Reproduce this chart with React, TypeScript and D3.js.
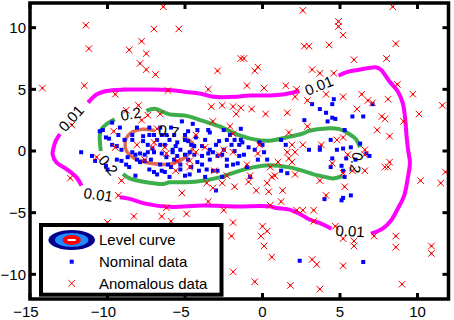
import React from "react";
import * as d3 from "d3";

type Pt = [number, number];

const xTicks = [-15, -10, -5, 0, 5, 10];
const yTicks = [-10, -5, 0, 5, 10];

// level 0.01 contour, drawn as separate pieces (gaps where labels sit)
const level001: Pt[][] = [
  [[-11.25, 3.92], [-10.71, 4.58], [-10.07, 4.86], [-9.0, 4.98], [-7.49, 4.98], [-5.99, 4.94], [-4.91, 4.78], [-4.06, 4.66], [-3.2, 4.4], [-1.69, 4.4], [-0.84, 4.5], [0.45, 4.5], [1.31, 4.58], [2.38, 4.86]],
  [[4.91, 6.11], [5.39, 6.38], [6.25, 6.59], [7.32, 6.79], [7.64, 6.59], [8.18, 5.66], [8.71, 4.86], [9.04, 3.92], [9.21, 2.57], [9.29, 1.24], [9.4, 0.03], [9.51, -0.93], [9.36, -2.28], [9.14, -3.62], [8.71, -4.72], [8.29, -5.63], [7.75, -6.29], [7.0, -6.7]],
  [[4.44, -6.3], [3.78, -5.89], [3.03, -5.55], [2.38, -5.09], [1.74, -4.75], [0.88, -4.62], [0.45, -4.49], [-1.69, -4.49], [-3.84, -4.42], [-5.99, -4.53], [-7.49, -4.29], [-8.57, -3.88], [-9.21, -3.75]],
  [[-11.68, -2.81], [-12.0, -2.14], [-12.64, -1.47], [-13.29, -0.93], [-13.54, -0.27], [-13.5, 0.16], [-13.33, 0.84], [-13.07, 1.37]],
];

const level02: Pt[][] = [
  [[-10.43, 0.0], [-10.5, 1.24], [-10.39, 1.77], [-10.07, 2.17], [-9.53, 2.57]],
  [[-7.49, 3.25], [-6.96, 3.43], [-6.31, 3.11], [-5.99, 2.97], [-4.91, 2.85], [-3.84, 2.44], [-2.77, 1.99], [-1.69, 1.37], [-0.62, 0.96], [0.45, 0.84], [1.53, 1.1], [2.6, 1.42], [3.03, 1.64], [4.1, 1.83], [4.96, 1.77], [5.6, 1.37], [6.03, 0.96], [6.29, 0.3]],
  [[5.17, -2.01], [4.53, -2.22], [3.88, -2.06], [3.24, -1.87], [2.81, -1.69], [1.74, -1.33], [0.45, -1.15], [-0.62, -1.33], [-1.69, -1.69], [-2.77, -2.14], [-3.84, -2.41], [-4.91, -2.54], [-5.99, -2.54], [-6.42, -2.68], [-7.49, -2.54], [-8.57, -2.22], [-9.0, -1.87]],
];

const level07: Pt[][] = [
  [[-6.96, 1.66], [-7.73, 1.77], [-8.37, 1.56], [-8.69, 1.24], [-8.86, 0.7], [-8.78, 0.0], [-8.35, -0.53], [-7.49, -0.93], [-6.63, -1.07], [-5.99, -1.07], [-5.35, -0.8], [-4.89, -0.4], [-4.57, 0.06], [-4.44, 0.46], [-4.7, 0.86], [-5.15, 1.14]],
];

const contourLabels = [
  { text: "0.01", x: -12.35, y: 2.65, angle: -48 },
  { text: "0.01", x: 3.65, y: 5.3, angle: -22 },
  { text: "0.01", x: -10.6, y: -3.55, angle: 8 },
  { text: "0.01", x: 5.65, y: -6.5, angle: 3 },
  { text: "0.2", x: -8.5, y: 3.0, angle: -10 },
  { text: "0.2", x: -9.95, y: -1.15, angle: 50 },
  { text: "0.2", x: 6.05, y: -0.95, angle: 100 },
  { text: "0.7", x: -6.05, y: 1.6, angle: 8 },
];

const nominalPoints: Pt[] = [
  [-11.7, -0.1], [-11.0, -0.4], [-10.8, -0.8], [-10.5, 1.6], [-10.3, 1.7], [-10.1, 1.1], [-9.9, 1.0], [-9.7, 0.5], [-9.7, 2.3], [-9.4, 0.4],
  [-10.1, -1.2], [-10.0, -1.5], [-9.4, -0.7], [-9.1, -0.8], [-8.8, -1.1], [-8.6, -1.3], [-8.4, 1.3], [-8.4, 0.9], [-7.7, 1.2], [-7.3, 1.3],
  [-7.0, 1.3], [-7.7, 0.8], [-7.4, 0.5], [-6.8, 0.9], [-6.5, 1.3], [-6.2, 1.3], [-7.1, 0.2], [-6.6, 0.5], [-8.4, -0.1], [-8.2, -0.3],
  [-7.9, -0.2], [-7.6, -0.3], [-7.4, -0.1], [-7.0, -0.1], [-6.5, -0.2], [-6.2, -0.5], [-8.1, -0.7], [-7.9, -0.9], [-7.6, -0.8], [-7.3, -1.5],
  [-7.0, -1.7], [-6.8, -1.9], [-6.5, -1.6], [-6.3, -1.7], [-8.2, -2.0], [-5.2, 2.4], [-3.5, 1.7], [-3.4, 1.5], [-1.4, 1.8], [-5.0, 1.3],
  [-4.8, 1.6], [-5.5, 0.7], [-5.6, 0.4], [-5.8, 0.1], [-5.0, 0.9], [-4.8, 0.8], [-4.6, 0.5], [-4.4, 0.4], [-3.9, 0.4], [-3.0, 0.5],
  [-2.8, 0.8], [-2.0, 0.5], [-1.5, 0.5], [-1.4, 0.9], [-0.9, 0.3], [-3.4, 0.1], [-5.3, 0.1], [-5.8, -0.1], [-5.5, -0.4], [-5.0, -0.3],
  [-4.7, -0.1], [-4.4, -0.3], [-3.9, -0.4], [-3.5, -0.2], [-3.2, -0.1], [-2.9, -0.4], [-2.6, -0.3], [-4.2, -0.9], [-3.9, -1.1], [-5.0, -2.0],
  [-3.2, -1.6], [-2.9, -1.6], [-1.9, -1.1], [-1.6, -1.0], [-3.0, -3.2], [-1.5, -0.4], [-2.3, -1.2], [-1.0, -1.3], [-0.8, -2.1], [-6.0, 0.9],
  [-5.7, -0.7], [-5.3, -1.1], [-4.8, -0.7], [-4.6, -1.3], [-4.3, 1.1], [-3.7, 0.9], [-3.4, -0.7], [-2.5, 0.1], [-2.3, -0.7], [-6.1, -1.1],
  [-5.9, -1.3], [-4.1, -1.6], [-3.6, -1.5], [-5.7, 1.3], [-7.2, -0.7], [-6.6, -1.1], [-6.3, 0.5], [-2.3, 0.9], [-1.8, 0.0], [-1.2, -0.3],
  [-0.5, 0.1], [-0.3, -0.7], [-9.1, 0.1], [-8.9, 0.9], [-8.7, -0.5], [-9.3, 1.3], [-9.2, 1.9], [-8.1, 1.9], [-7.3, 1.9], [-6.6, 1.9],
  [-5.9, 1.9], [-4.5, 2.2], [-4.2, 1.7], [-2.5, 1.7], [-2.1, 1.3], [-5.3, -1.5], [-4.7, -1.9], [-3.7, -2.1], [-6.0, -2.1], [-2.6, -2.1],
  [-0.2, 0.7], [0.0, 0.5], [1.2, 0.9], [1.5, 0.5], [0.1, -0.1], [0.3, -0.7], [1.2, -1.6], [1.6, -1.8], [-1.8, 0.9], [-1.3, 0.7],
  [2.7, 2.5], [4.6, 4.2], [3.2, 3.8], [4.5, 3.8], [3.7, 3.4], [4.1, 3.1], [5.8, 2.8], [6.5, 2.8], [4.5, 2.7], [4.7, 2.6],
  [4.2, 2.4], [5.3, 1.7], [7.1, 3.8], [4.4, 0.9], [5.2, 0.2], [3.7, 0.1], [3.7, 0.3], [6.3, 0.6], [6.9, -0.4], [6.7, -0.2],
  [4.5, -0.6], [4.4, -1.3], [5.1, -1.2], [5.2, -1.6], [5.3, -2.1], [5.4, -0.6], [5.7, -3.6], [4.0, -3.9], [5.1, -4.0], [5.2, -3.8],
  [2.4, -8.9], [6.5, -9.0], [3.0, 0.1], [5.7, 0.3], [6.0, -0.7], [4.8, 0.1],
];

const anomalousPoints: Pt[] = [
  [-11.4, 10.2], [-7.0, 9.9], [-11.2, 8.3], [-8.6, 8.2], [-7.8, 8.9], [-7.5, 7.9], [-7.9, 7.1], [-7.5, 6.6], [-6.9, 6.2], [-14.2, 5.1],
  [-11.5, 5.3], [-9.5, 4.6], [-6.1, 4.9], [-8.0, 3.7], [-8.8, 3.3], [-7.8, 2.5], [-7.4, 2.9], [-6.6, 3.0], [-9.6, 1.6], [-12.3, 2.1],
  [-6.8, 1.8], [-9.5, 0.3], [-8.1, 0.5], [-7.1, 0.3], [-6.3, 0.3], [-6.4, 11.7], [2.6, 11.4], [-5.4, 9.9], [-1.4, 7.5], [-1.2, 7.5],
  [-0.3, 6.8], [-0.5, 6.5], [-2.9, 6.5], [2.7, 8.5], [3.0, 8.5], [-1.0, 5.3], [0.1, 5.1], [1.5, 5.3], [2.2, 5.0], [-3.5, 5.0],
  [2.1, 4.4], [2.9, 4.1], [-3.3, 3.6], [-2.6, 3.7], [-1.9, 3.6], [-1.4, 3.5], [-1.7, 3.0], [-0.7, 3.4], [0.2, 3.0], [1.6, 3.1],
  [-3.2, 2.4], [-2.1, 2.0], [-1.9, 1.4], [-4.3, 1.3], [1.7, 1.5], [2.9, 2.0], [1.9, 0.5], [2.6, 0.5], [-3.7, 0.3], [-2.5, 0.1],
  [-0.2, 0.5], [8.4, 11.7], [4.9, 10.5], [4.9, 10.1], [5.2, 9.4], [4.3, 8.6], [8.6, 8.7], [5.9, 7.4], [8.0, 7.5], [3.2, 6.6],
  [3.7, 6.3], [4.6, 6.3], [8.7, 5.4], [4.1, 4.6], [5.2, 4.4], [6.4, 4.6], [6.8, 4.1], [7.1, 3.9], [8.1, 4.2], [9.7, 4.6],
  [11.6, 3.7], [6.1, 3.4], [7.7, 2.8], [7.9, 2.6], [10.1, 3.0], [7.4, 1.7], [8.2, 1.2], [9.1, 2.4], [5.2, 1.1], [4.8, 0.9],
  [3.8, 0.5], [6.6, 0.1], [-12.4, -2.2], [-9.1, -2.4], [-9.3, -3.6], [-8.3, -5.3], [-6.5, -5.3], [-6.2, -4.6], [-10.7, -0.5], [-10.0, -5.8],
  [-5.6, -1.6], [-4.7, -1.3], [-5.2, -3.4], [-3.5, -4.1], [-4.9, -5.1], [-2.5, -4.8], [-3.6, -2.6], [-2.6, -2.6], [-3.2, -3.0], [-1.8, -2.9],
  [-2.3, -2.0], [-0.9, -2.5], [-0.8, -2.0], [-0.4, -3.2], [0.3, -2.6], [0.4, -3.3], [1.3, -3.2], [0.6, -2.1], [0.8, -2.0], [1.2, -4.1],
  [0.5, -4.4], [2.2, -4.8], [2.6, -4.8], [-1.9, -5.8], [-2.0, -6.9], [0.0, -6.1], [0.3, -6.5], [-0.1, -6.9], [0.1, -7.7], [0.6, -8.6],
  [-1.9, -9.8], [-0.5, -10.6], [1.8, -10.9], [-0.3, -0.2], [-1.0, -1.1], [0.5, -1.3], [1.6, -0.1], [2.1, -0.1], [1.7, -0.6], [1.9, -0.9],
  [1.0, -0.9], [2.1, -1.9], [5.5, -0.3], [6.6, -0.3], [4.5, -1.0], [8.2, -0.9], [7.9, -1.3], [8.1, -1.3], [6.6, -1.6], [5.8, -1.6],
  [5.2, -1.8], [3.7, -2.4], [5.3, -2.9], [4.1, -3.6], [10.2, -2.4], [11.5, -2.6], [11.8, -1.7], [3.3, -4.8], [3.3, -5.7], [4.7, -6.1],
  [5.2, -7.1], [5.9, -7.3], [5.9, -7.7], [7.2, -6.9], [8.6, -6.9], [8.6, -7.8], [10.9, -7.7], [10.9, -8.3], [3.2, -8.8], [3.5, -9.2],
  [5.2, -9.3], [9.0, -10.8], [3.7, -11.2], [-5.9, -5.7], [-7.0, 0.7], [-6.2, -0.2], [-4.3, -0.1], [-2.8, -0.3], [-1.9, -0.1], [-4.7, -0.8],
  [-7.6, -0.7], [-3.1, -1.6], [-5.5, -0.8],
];

const legendItems = ["Level curve", "Nominal data", "Anomalous data"];

const W = 454;
const H = 320;
const FONT = "'Liberation Sans', Arial, Helvetica, sans-serif";

export default function App() {
  const x = d3.scaleLinear().domain([-15, 12]).range([30, 448.5]);
  const y = d3.scaleLinear().domain([-12, 12]).range([299, 3]);
  const line = d3
    .line<Pt>()
    .x((d) => x(d[0]))
    .y((d) => y(d[1]))
    .curve(d3.curveCatmullRom.alpha(0.5));

  const [x0, x1] = x.range();
  const [y0, y1] = y.range();

  const contours = [
    { segs: level001, color: "#ff00ff", width: 4 },
    { segs: level02, color: "#3cae4c", width: 4 },
    { segs: level07, color: "#e06c52", width: 3.5 },
  ];

  const legX = 41;
  const legY = 225;
  const rowY = (i: number) => legY + 15 + i * 21.7;

  return (
    <div style={{ position: "fixed", left: 0, top: 0 }}>
      <svg width={W} height={H} style={{ display: "block", background: "#fff" }} fontFamily={FONT}>
        <rect width={W} height={H} fill="#fff" />

        {contours.map((c, ci) =>
          c.segs.map((s, si) => (
            <path key={`c${ci}-${si}`} d={line(s) ?? ""} fill="none" stroke={c.color} strokeWidth={c.width} />
          ))
        )}

        {nominalPoints.map((p, i) => (
          <rect key={`n${i}`} x={x(p[0]) - 2} y={y(p[1]) - 2} width={4} height={4} fill="#0000ff" />
        ))}

        {anomalousPoints.map((p, i) => {
          const cx = x(p[0]);
          const cy = y(p[1]);
          const r = 3.3;
          return (
            <g key={`a${i}`} stroke="#ff0000" strokeWidth={1}>
              <line x1={cx - r} y1={cy - r} x2={cx + r} y2={cy + r} />
              <line x1={cx - r} y1={cy + r} x2={cx + r} y2={cy - r} />
              <rect x={cx - 1} y={cy - 1} width={2} height={2} fill="#ff0000" stroke="none" />
            </g>
          );
        })}

        {contourLabels.map((l, i) => (
          <text
            key={`l${i}`}
            transform={`translate(${x(l.x)},${y(l.y)}) rotate(${l.angle})`}
            textAnchor="middle"
            dy="0.35em"
            fontSize={15}
            fill="#000"
          >
            {l.text}
          </text>
        ))}

        {/* axes box + inward ticks */}
        <rect x={x0} y={y1} width={x1 - x0} height={y0 - y1} fill="none" stroke="#000" strokeWidth={3.5} />
        {xTicks.map((t) => (
          <g key={`xt${t}`} stroke="#000" strokeWidth={3}>
            <line x1={x(t)} x2={x(t)} y1={y0} y2={y0 - 6} />
            <line x1={x(t)} x2={x(t)} y1={y1} y2={y1 + 6} />
          </g>
        ))}
        {yTicks.map((t) => (
          <g key={`yt${t}`} stroke="#000" strokeWidth={3}>
            <line x1={x0} x2={x0 + 6} y1={y(t)} y2={y(t)} />
            <line x1={x1} x2={x1 - 6} y1={y(t)} y2={y(t)} />
          </g>
        ))}
        {xTicks.map((t) => (
          <text key={`xl${t}`} x={x(t) - (t < 0 ? 4 : 0)} y={316.5} textAnchor="middle" fontSize={15} fill="#000">
            {t < 0 ? `\u2212${-t}` : t}
          </text>
        ))}
        {yTicks.map((t) => (
          <text key={`yl${t}`} x={26} y={y(t)} dy="0.36em" textAnchor="end" fontSize={15} fill="#000">
            {t < 0 ? `\u2212${-t}` : t}
          </text>
        ))}

        {/* legend */}
        <rect x={legX} y={legY} width={180.5} height={69.7} fill="#fff" stroke="#000" strokeWidth={4} />
        <g>
          <ellipse cx={71.7} cy={rowY(0)} rx={23.3} ry={10} fill="#00008c" />
          <ellipse cx={71.7} cy={rowY(0)} rx={16.7} ry={7} fill="#1e8cff" />
          <ellipse cx={71.7} cy={rowY(0)} rx={9.2} ry={5} fill="#ff0000" />
          <rect x={67.7} y={rowY(0) - 1} width={8} height={2} fill="#fff" />
        </g>
        <rect x={69.7} y={rowY(1) - 2} width={4} height={4} fill="#0000ff" />
        <g stroke="#ff0000" strokeWidth={1}>
          <line x1={68.4} y1={rowY(2) - 3.3} x2={75} y2={rowY(2) + 3.3} />
          <line x1={68.4} y1={rowY(2) + 3.3} x2={75} y2={rowY(2) - 3.3} />
        </g>
        {legendItems.map((s, i) => (
          <text key={s} x={99} y={rowY(i)} dy="0.36em" fontSize={15} fill="#000">
            {s}
          </text>
        ))}
      </svg>
    </div>
  );
}
